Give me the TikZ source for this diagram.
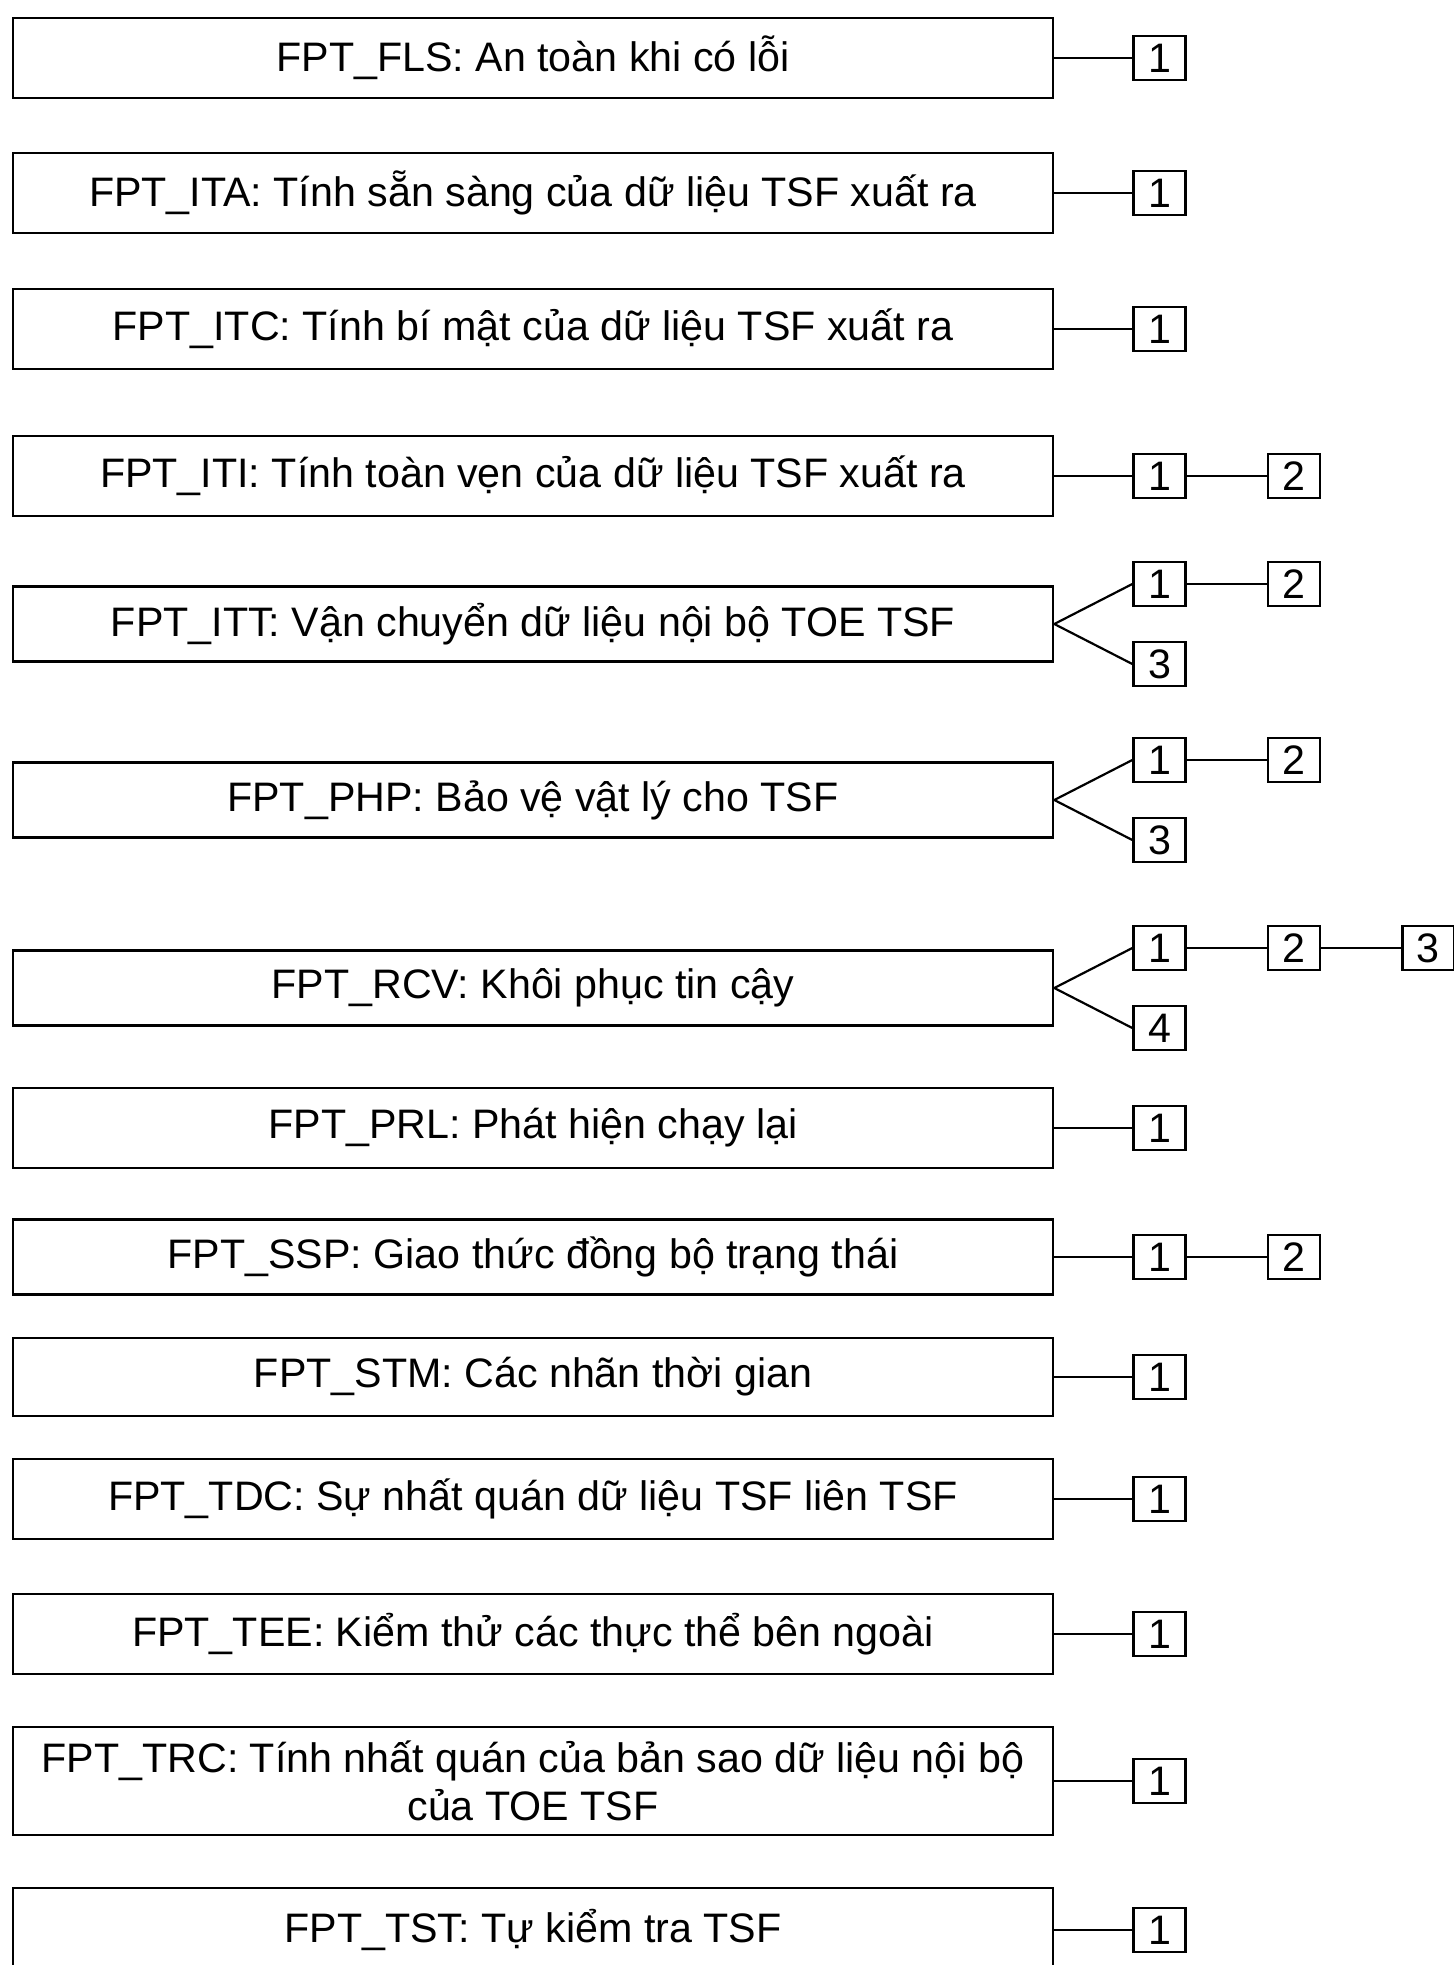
\documentclass[tikz,border=0pt]{standalone}
\usepackage{fontspec}
\setmainfont{Liberation Sans}
\usetikzlibrary{positioning}

\begin{document}
\begin{tikzpicture}[
    x=0.5pt, y=-0.5pt,
    fcomp/.style={draw, line width=1.3pt, minimum width=520pt, minimum height=#1, inner sep=2pt, align=center, font=\fontsize{20.6}{24}\selectfont},
    fcomp/.default={40pt},
    fnum/.style={draw, line width=1.2pt, minimum width=26pt, minimum height=22pt, inner sep=0pt, font=\fontsize{20.6}{24}\selectfont},
    link/.style={line width=1.1pt},
    node distance=40pt
]
\useasboundingbox (0,0) rectangle (1454,1965);

% Families
\node[fcomp] (fls) at (533,58) {FPT\_FLS: An toàn khi có lỗi};
\node[fcomp] (ita) at (533,193) {FPT\_ITA: Tính sẵn sàng của dữ liệu TSF xuất ra};
\node[fcomp] (itc) at (533,329) {FPT\_ITC: Tính bí mật của dữ liệu TSF xuất ra};
\node[fcomp] (iti) at (533,476) {FPT\_ITI: Tính toàn vẹn của dữ liệu TSF xuất ra};
\node[fcomp=37.5pt] (itt) at (533,624) {FPT\_ITT: Vận chuyển dữ liệu nội bộ TOE TSF};
\node[fcomp=37.5pt] (php) at (533,800) {FPT\_PHP: Bảo vệ vật lý cho TSF};
\node[fcomp=37.5pt] (rcv) at (533,988) {FPT\_RCV: Khôi phục tin cậy};
\node[fcomp] (prl) at (533,1128) {FPT\_PRL: Phát hiện chạy lại};
\node[fcomp=37.5pt] (ssp) at (533,1257) {FPT\_SSP: Giao thức đồng bộ trạng thái};
\node[fcomp=39pt] (stm) at (533,1377) {FPT\_STM: Các nhãn thời gian};
\node[fcomp] (tdc) at (533,1499) {FPT\_TDC: Sự nhất quán dữ liệu TSF liên TSF};
\node[fcomp] (tee) at (533,1634) {FPT\_TEE: Kiểm thử các thực thể bên ngoài};
\node[fcomp=54pt] (trc) at (533,1781) {FPT\_TRC: Tính nhất quán của bản sao dữ liệu nội bộ\\của TOE TSF};
\node[fcomp=42pt] (tst) at (533,1930) {FPT\_TST: Tự kiểm tra TSF};

% Components, single chains
\foreach \fam in {fls,ita,itc,iti,prl,ssp,stm,tdc,tee,trc,tst}{
  \node[fnum, right=39pt of \fam] (\fam1) {1};
  \draw[link] (\fam) -- (\fam1);
}
\node[fnum, right=of iti1] (iti2) {2};
\draw[link] (iti1) -- (iti2);
\node[fnum, right=of ssp1] (ssp2) {2};
\draw[link] (ssp1) -- (ssp2);

% Components, branching
\node[fnum, right=39pt of itt, yshift=20pt] (itt1) {1};
\node[fnum, right=39pt of itt, yshift=-20pt] (itt3) {3};
\node[fnum, right=of itt1] (itt2) {2};
\draw[link] (itt.east) -- (itt1.west);
\draw[link] (itt.east) -- (itt3.west);
\draw[link] (itt1) -- (itt2);

\node[fnum, right=39pt of php, yshift=20pt] (php1) {1};
\node[fnum, right=39pt of php, yshift=-20pt] (php3) {3};
\node[fnum, right=of php1] (php2) {2};
\draw[link] (php.east) -- (php1.west);
\draw[link] (php.east) -- (php3.west);
\draw[link] (php1) -- (php2);

\node[fnum, right=39pt of rcv, yshift=20pt] (rcv1) {1};
\node[fnum, right=39pt of rcv, yshift=-20pt] (rcv4) {4};
\node[fnum, right=of rcv1] (rcv2) {2};
\node[fnum, right=of rcv2] (rcv3) {3};
\draw[link] (rcv.east) -- (rcv1.west);
\draw[link] (rcv.east) -- (rcv4.west);
\draw[link] (rcv1) -- (rcv2);
\draw[link] (rcv2) -- (rcv3);

\end{tikzpicture}
\end{document}
